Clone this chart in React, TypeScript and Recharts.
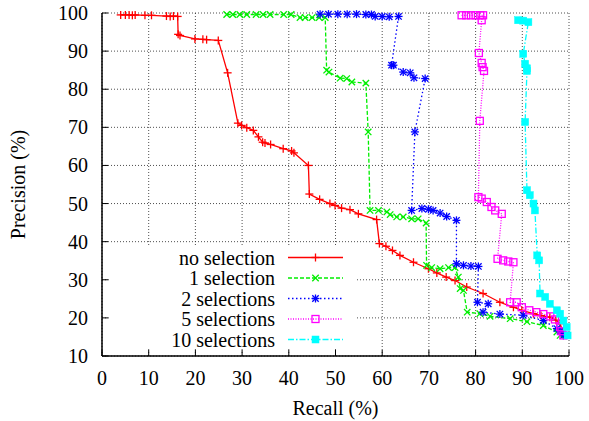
import React from 'react';
import { LineChart, Line, XAxis, YAxis, CartesianGrid, Legend } from 'recharts';

const FONT = "'Liberation Serif', 'Times New Roman', 'DejaVu Serif', serif";
const textStyle = { fontFamily: FONT, fontSize: 20 };

const recallTicks = [0, 10, 20, 30, 40, 50, 60, 70, 80, 90, 100];
const precisionTicks = [10, 20, 30, 40, 50, 60, 70, 80, 90, 100];

const seriesNames = ['no selection', '1 selection', '2 selections', '5 selections', '10 selections'];

const noSelRecall = [4.0, 5.0, 5.8, 6.5, 7.1, 9.2, 10.6, 13.8, 14.6, 15.3, 16.2, 16.3, 16.7, 19.9, 21.6, 22.4, 24.9, 26.9, 29.1, 29.9, 31.0, 32.4, 33.5, 34.4, 34.9, 36.1, 38.8, 40.6, 41.1, 44.2, 44.4, 46.6, 48.8, 49.9, 51.3, 53.1, 54.9, 58.8, 59.4, 60.8, 62.2, 63.8, 66.7, 69.9, 71.7, 73.7, 75.6, 78.1, 81.6, 85.2, 88.1, 89.9, 92.4, 94.0, 95.9, 97.2, 98.1, 98.8];
const noSelPrecision = [99.5, 99.5, 99.5, 99.4, 99.5, 99.4, 99.4, 99.2, 99.1, 99.2, 99.1, 94.4, 94.1, 93.2, 93.1, 93.0, 92.8, 84.3, 71.1, 70.5, 69.9, 69.2, 67.5, 66.1, 65.9, 65.5, 64.4, 63.8, 63.3, 60.0, 52.5, 51.1, 50.0, 49.5, 48.8, 48.4, 47.3, 45.8, 39.5, 38.8, 37.7, 36.4, 34.6, 32.9, 31.8, 30.7, 29.8, 28.1, 26.4, 24.1, 22.8, 22.0, 21.1, 20.6, 20.2, 19.4, 18.5, 15.9];

const oneSelRecall = [26.7, 28.0, 29.5, 31.0, 33.0, 34.5, 36.0, 38.9, 40.5, 42.4, 43.5, 45.0, 46.5, 47.8, 48.1, 48.6, 51.0, 52.4, 53.5, 56.5, 57.0, 57.4, 59.2, 61.0, 61.7, 63.1, 64.5, 66.3, 67.7, 69.4, 69.5, 70.6, 72.4, 74.2, 75.6, 76.3, 76.7, 77.4, 78.2, 80.9, 83.1, 87.4, 91.0, 94.5, 97.4, 98.1];
const oneSelPrecision = [99.6, 99.6, 99.6, 99.6, 99.6, 99.6, 99.6, 99.6, 99.6, 98.8, 98.8, 98.8, 98.8, 98.8, 85.0, 84.5, 82.9, 82.8, 81.9, 81.6, 68.8, 48.2, 48.2, 47.8, 47.1, 46.5, 46.5, 46.0, 46.0, 44.9, 33.8, 33.2, 32.9, 33.2, 33.2, 30.7, 27.7, 27.2, 21.5, 21.1, 20.4, 19.8, 19.0, 18.0, 16.3, 15.4];

const twoSelRecall = [46.7, 48.5, 50.5, 52.5, 54.5, 56.5, 57.7, 58.5, 60.0, 61.5, 63.5, 62.0, 62.4, 64.5, 66.0, 66.8, 69.2, 67.0, 66.3, 68.5, 69.9, 70.9, 72.4, 73.8, 75.9, 75.9, 77.4, 79.0, 80.6, 80.4, 82.7, 81.6, 85.2, 90.2, 94.5, 97.4, 98.1, 98.8];
const twoSelPrecision = [99.7, 99.7, 99.7, 99.7, 99.7, 99.6, 99.6, 99.1, 99.1, 99.0, 99.1, 86.3, 86.3, 84.5, 84.3, 83.0, 82.8, 68.8, 48.2, 48.7, 48.5, 48.2, 47.5, 46.6, 45.6, 34.2, 33.8, 33.6, 33.5, 24.1, 23.7, 21.5, 21.0, 20.7, 19.3, 17.2, 16.5, 15.4];

const fiveSelRecall = [77.0, 78.0, 79.0, 80.0, 81.0, 81.6, 81.3, 80.7, 81.3, 81.5, 81.8, 80.9, 80.6, 81.3, 82.4, 83.4, 84.2, 85.6, 84.7, 85.9, 87.0, 88.1, 87.4, 88.8, 89.9, 91.5, 93.0, 94.5, 96.0, 97.0, 98.1, 98.4, 98.8];
const fiveSelPrecision = [99.4, 99.4, 99.4, 99.4, 99.4, 99.4, 98.1, 89.5, 86.9, 85.8, 84.8, 71.7, 51.7, 51.3, 50.4, 49.1, 48.2, 47.3, 35.5, 35.1, 34.8, 34.6, 24.1, 24.1, 22.8, 22.0, 21.5, 21.0, 20.4, 19.6, 17.6, 16.5, 15.4];

const tenSelRecall = [89.1, 90.2, 91.3, 90.2, 90.6, 91.0, 91.0, 90.6, 91.0, 91.6, 92.4, 92.7, 93.2, 93.6, 93.8, 94.9, 95.9, 97.4, 98.1, 98.8, 99.5, 99.7];
const tenSelPrecision = [98.1, 98.0, 97.6, 89.3, 86.7, 85.5, 84.8, 71.4, 53.5, 52.2, 50.0, 48.2, 36.4, 35.1, 26.4, 25.5, 23.7, 22.0, 21.1, 19.3, 17.6, 15.4];

const zip = (xs: number[], ys: number[]) => xs.map((recall, i) => ({ recall, precision: ys[i] }));

const series = [
  { name: seriesNames[0], color: '#ff0000', dash: undefined, marker: 'plus', data: zip(noSelRecall, noSelPrecision) },
  { name: seriesNames[1], color: '#00ee00', dash: '4 2', marker: 'cross', data: zip(oneSelRecall, oneSelPrecision) },
  { name: seriesNames[2], color: '#0000ff', dash: '1.5 2.5', marker: 'star', data: zip(twoSelRecall, twoSelPrecision) },
  { name: seriesNames[3], color: '#ff00ff', dash: '1 1.5', marker: 'box', data: zip(fiveSelRecall, fiveSelPrecision) },
  { name: seriesNames[4], color: '#00ffff', dash: '6 2 1.5 2', marker: 'fbox', data: zip(tenSelRecall, tenSelPrecision) },
];

function Marker({ kind, cx, cy, color }: any) {
  if (cx == null || cy == null) return null;
  const s = 4;
  const d = 3.2;
  const sw = 1.3;
  if (kind === 'plus') {
    return (
      <g stroke={color} strokeWidth={sw}>
        <line x1={cx - s} x2={cx + s} y1={cy} y2={cy} />
        <line x1={cx} x2={cx} y1={cy - s} y2={cy + s} />
      </g>
    );
  }
  if (kind === 'cross') {
    return (
      <g stroke={color} strokeWidth={sw}>
        <line x1={cx - d} x2={cx + d} y1={cy - d} y2={cy + d} />
        <line x1={cx - d} x2={cx + d} y1={cy + d} y2={cy - d} />
      </g>
    );
  }
  if (kind === 'star') {
    return (
      <g stroke={color} strokeWidth={sw}>
        <line x1={cx - s} x2={cx + s} y1={cy} y2={cy} />
        <line x1={cx} x2={cx} y1={cy - s} y2={cy + s} />
        <line x1={cx - d} x2={cx + d} y1={cy - d} y2={cy + d} />
        <line x1={cx - d} x2={cx + d} y1={cy + d} y2={cy - d} />
      </g>
    );
  }
  if (kind === 'box') {
    return <rect x={cx - 3.5} y={cy - 3.5} width={7} height={7} fill="none" stroke={color} strokeWidth={sw} />;
  }
  return <rect x={cx - 3.5} y={cy - 3.5} width={7} height={7} fill={color} stroke={color} strokeWidth={0.5} />;
}

const BottomTick = ({ x, y, payload }: any) => (
  <g>
    <line x1={x} x2={x} y1={y} y2={y - 6} stroke="#000" />
    <text x={x} y={y + 29} textAnchor="middle" style={textStyle} fill="#000">
      {payload.value}
    </text>
  </g>
);

const LeftTick = ({ x, y, payload }: any) => (
  <g>
    <line x1={x} x2={x + 6} y1={y} y2={y} stroke="#000" />
    <text x={x - 14} y={y} dy="0.35em" textAnchor="end" style={textStyle} fill="#000">
      {payload.value}
    </text>
  </g>
);

const TopTick = ({ x, y }: any) => <line x1={x} x2={x} y1={y} y2={y + 6} stroke="#000" />;
const RightTick = ({ x, y }: any) => <line x1={x} x2={x - 6} y1={y} y2={y} stroke="#000" />;

const renderLegend = () => (
  <svg width={246} height={103} style={{ display: 'block', background: '#fff' }}>
    {series.map((s, i) => {
      const y = 11.5 + i * 20.5;
      return (
        <g key={s.name}>
          <text x={166} y={y} dy="0.35em" textAnchor="end" style={textStyle} fill="#000">
            {s.name}
          </text>
          <line x1={179} x2={234} y1={y} y2={y} stroke={s.color} strokeWidth={1.3} strokeDasharray={s.dash} />
          <Marker kind={s.marker} cx={206.5} cy={y} color={s.color} />
        </g>
      );
    })}
  </svg>
);

export default function App() {
  return (
    <div style={{ fontFamily: FONT }}>
      <style>{'body{margin:0}'}</style>
      <LineChart width={589} height={421} margin={{ top: 13, right: 20, bottom: 0, left: 0 }}>
        <CartesianGrid stroke="#222" strokeDasharray="1 2" strokeWidth={0.8} />
        <XAxis
          dataKey="recall"
          type="number"
          domain={[0, 100]}
          ticks={recallTicks}
          interval={0}
          height={65}
          tickSize={0}
          tickMargin={0}
          tickLine={false}
          axisLine={{ stroke: '#000', strokeWidth: 1.5 }}
          tick={BottomTick}
          label={{
            content: (p: any) => {
              const vb = p.viewBox;
              return (
                <text x={vb.x + vb.width / 2} y={vb.y + 59} textAnchor="middle" style={textStyle} fill="#000">
                  Recall (%)
                </text>
              );
            },
          }}
        />
        <XAxis
          xAxisId="top"
          orientation="top"
          type="number"
          domain={[0, 100]}
          allowDataOverflow
          ticks={recallTicks}
          interval={0}
          height={0}
          tickSize={0}
          tickMargin={0}
          tickLine={false}
          axisLine={{ stroke: '#000', strokeWidth: 1.5 }}
          tick={TopTick}
        />
        <YAxis
          type="number"
          domain={[10, 100]}
          ticks={precisionTicks}
          interval={0}
          width={102}
          tickSize={0}
          tickMargin={0}
          tickLine={false}
          axisLine={{ stroke: '#000', strokeWidth: 1.5 }}
          tick={LeftTick}
          label={{
            content: (p: any) => {
              const vb = p.viewBox;
              const cx = vb.x + 25;
              const cy = vb.y + vb.height / 2;
              return (
                <text x={cx} y={cy} transform={`rotate(-90, ${cx}, ${cy})`} textAnchor="middle" style={textStyle} fill="#000">
                  Precision (%)
                </text>
              );
            },
          }}
        />
        <YAxis
          yAxisId="right"
          orientation="right"
          type="number"
          domain={[10, 100]}
          allowDataOverflow
          ticks={precisionTicks}
          interval={0}
          width={0}
          tickSize={0}
          tickMargin={0}
          tickLine={false}
          axisLine={{ stroke: '#000', strokeWidth: 1.5 }}
          tick={RightTick}
        />
        <Legend
          content={renderLegend}
          layout="vertical"
          align="center"
          verticalAlign="middle"
          wrapperStyle={{ left: 109, top: 246, width: 246, height: 103, lineHeight: 0 }}
        />
        {series.map((s) => (
          <Line
            key={s.name}
            name={s.name}
            data={s.data}
            dataKey="precision"
            type="linear"
            stroke={s.color}
            strokeWidth={1.3}
            strokeDasharray={s.dash}
            isAnimationActive={false}
            dot={(p: any) => <Marker key={p.index} kind={s.marker} cx={p.cx} cy={p.cy} color={s.color} />}
            activeDot={false}
          />
        ))}
      </LineChart>
    </div>
  );
}
